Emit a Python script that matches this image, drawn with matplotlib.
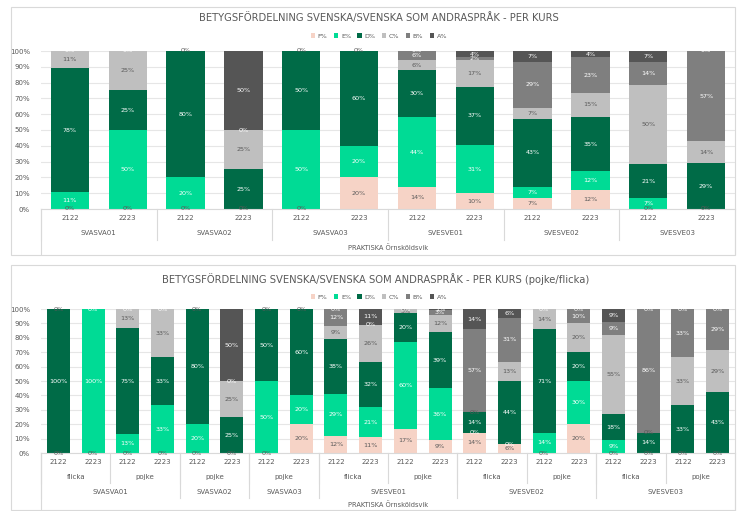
import matplotlib
matplotlib.use("Agg")
import matplotlib.pyplot as plt
import matplotlib.patches as patches
import numpy as np

# grades (series) and colours
grades = ['F%', 'E%', 'D%', 'C%', 'B%', 'A%']
colors = ['#F6D3C6', '#00DB95', '#006B47', '#BFBFBF', '#7F7F7F', '#555555']
label_colors = ['#595959', 'white', 'white', '#595959', 'white', 'white']

# top chart data (per kurs)
top_courses = ['SVASVA01', 'SVASVA02', 'SVASVA03', 'SVESVE01', 'SVESVE02', 'SVESVE03']
top_years = ['2122', '2223'] * 6
top_F = [0, 0, 0, 0, 0, 20, 14, 10, 7, 12, 0, 0]
top_E = [11, 50, 20, 0, 50, 20, 44, 31, 7, 12, 7, 0]
top_D = [78, 25, 80, 25, 50, 60, 30, 37, 43, 35, 21, 29]
top_C = [11, 25, 0, 25, 0, 0, 6, 17, 7, 15, 50, 14]
top_B = [0, 0, 0, 0, 0, 0, 6, 2, 29, 23, 14, 57]
top_A = [0, 0, 0, 50, 0, 0, 0, 4, 7, 4, 7, 0]

# bottom chart data (per kurs, pojke/flicka)
bot_courses = ['SVASVA01', 'SVASVA02', 'SVASVA03', 'SVESVE01', 'SVESVE02', 'SVESVE03']
bot_course_sizes = [4, 2, 2, 4, 4, 4]
bot_genders = ['flicka', 'pojke', 'pojke', 'pojke', 'flicka', 'pojke',
               'flicka', 'pojke', 'flicka', 'pojke']
bot_years = ['2122', '2223'] * 10
bot_F = [0, 0, 0, 0, 0, 0, 0, 20, 12, 11, 17, 9, 14, 6, 0, 20, 0, 0, 0, 0]
bot_E = [0, 100, 13, 33, 20, 0, 50, 20, 29, 21, 60, 36, 0, 0, 14, 30, 9, 0, 0, 0]
bot_D = [100, 0, 75, 33, 80, 25, 50, 60, 38, 32, 20, 39, 14, 44, 71, 20, 18, 14, 33, 43]
bot_C = [0, 0, 13, 33, 0, 25, 0, 0, 9, 26, 3, 12, 0, 13, 14, 20, 55, 0, 33, 29]
bot_B = [0, 0, 0, 0, 0, 0, 0, 0, 12, 0, 0, 3, 57, 31, 0, 10, 9, 86, 33, 29]
bot_A = [0, 0, 0, 0, 0, 50, 0, 0, 0, 11, 0, 1, 14, 6, 0, 0, 9, 0, 0, 0]

W, H = 737, 511
fig = plt.figure(figsize=(W / 100, H / 100), dpi=100)
plt.rcParams['font.family'] = ['DejaVu Sans']
gray = '#595959'


def px_axes(x0, y0, x1, y1):
    # pixel box (top-left origin) -> axes
    return fig.add_axes([x0 / W, 1 - y1 / H, (x1 - x0) / W, (y1 - y0) / H])


def stacked(ax, series, width):
    data = np.array(series, dtype=float)
    tot = data.sum(axis=0)
    tot[tot == 0] = 1
    heights = data / tot * 100
    n = data.shape[1]
    x = np.arange(n)
    bottom = np.zeros(n)
    handles = []
    seen = [set() for _ in range(n)]
    for i in range(len(grades)):
        b = ax.bar(x, heights[i], width, bottom=bottom, color=colors[i], label=grades[i], zorder=2)
        handles.append(b)
        for j in range(n):
            yc = bottom[j] + heights[i][j] / 2
            if data[i][j] == 0:
                key = round(yc, 1)
                if key in seen[j]:
                    continue  # identical "0%" already drawn here
                seen[j].add(key)
            ax.text(x[j], yc, '%d%%' % data[i][j],
                    ha='center', va='center', fontsize=4.6, color=label_colors[i], zorder=3)
        bottom += heights[i]
    ax.set_xlim(-0.5, n - 0.5)
    ax.set_ylim(0, 100)
    ax.set_yticks(np.arange(0, 101, 10))
    ax.set_yticklabels(['%d%%' % v for v in range(0, 101, 10)])
    ax.tick_params(axis='y', length=0, labelsize=5, labelcolor=gray, pad=8)
    ax.set_xticks([])
    ax.grid(axis='y', color='#E6E6E6', linewidth=0.8, zorder=0)
    for s in ['top', 'right', 'left']:
        ax.spines[s].set_visible(False)
    ax.spines['bottom'].set_color('#D9D9D9')
    return handles


def vline(ax, x, y0px, y1px, ytop):
    # vertical separator in data x, pixel y
    trans = ax.get_xaxis_transform()
    h = ax.get_position().height * H
    ax.plot([x, x], [-(y0px - ytop) / h, -(y1px - ytop) / h], transform=trans,
            color='#D9D9D9', linewidth=0.8, clip_on=False)


def row_text(ax, x, ypx, ytop, s, size=5):
    trans = ax.get_xaxis_transform()
    h = ax.get_position().height * H
    ax.text(x, -(ypx - ytop) / h, s, transform=trans, ha='center', va='center',
            fontsize=size, color=gray)


# chart borders
for (y0, y1) in [(7, 255), (265, 510)]:
    fig.patches.append(patches.Rectangle((11 / W, 1 - y1 / H), 724 / W, (y1 - y0) / H,
                                         transform=fig.transFigure, fill=False,
                                         edgecolor='#D9D9D9', linewidth=0.8))

# ---------- top chart ----------
ax1 = px_axes(41, 51, 735, 209)
h1 = stacked(ax1, [top_F, top_E, top_D, top_C, top_B, top_A], 0.66)
for j, y in enumerate(top_years):
    row_text(ax1, j, 218, 209, y)
for k, c in enumerate(top_courses):
    row_text(ax1, 2 * k + 0.5, 233, 209, c)
    vline(ax1, 2 * k - 0.5, 209, 240, 209)
vline(ax1, -0.5, 209, 254, 209)
vline(ax1, 11.5, 209, 254, 209)
row_text(ax1, 5.5, 248, 209, 'PRAKTISKA Örnsköldsvik', 4.8)
fig.text(379 / W, 1 - 18 / H, 'BETYGSFÖRDELNING SVENSKA/SVENSKA SOM ANDRASPRÅK - PER KURS',
         ha='center', va='center', fontsize=7.2, color=gray)
fig.legend(h1, grades, loc='center', bbox_to_anchor=(379 / W, 1 - 36 / H), ncol=6,
           fontsize=4.6, frameon=False, handlelength=0.7, handleheight=0.7,
           columnspacing=1.0, handletextpad=0.4, labelcolor=gray)

# ---------- bottom chart ----------
ax2 = px_axes(41, 309, 735, 453)
h2 = stacked(ax2, [bot_F, bot_E, bot_D, bot_C, bot_B, bot_A], 0.66)
for j, y in enumerate(bot_years):
    row_text(ax2, j, 462, 453, y)
for k, g in enumerate(bot_genders):
    row_text(ax2, 2 * k + 0.5, 477, 453, g)
    vline(ax2, 2 * k - 0.5, 453, 483, 453)
start = 0
for c, n in zip(bot_courses, bot_course_sizes):
    row_text(ax2, start + (n - 1) / 2, 492, 453, c)
    vline(ax2, start - 0.5, 453, 498, 453)
    start += n
vline(ax2, -0.5, 453, 510, 453)
vline(ax2, 19.5, 453, 510, 453)
row_text(ax2, 9.5, 505, 453, 'PRAKTISKA Örnsköldsvik', 4.8)
fig.text(376 / W, 1 - 279 / H,
         'BETYGSFÖRDELNING SVENSKA/SVENSKA SOM ANDRASPRÅK - PER KURS (pojke/flicka)',
         ha='center', va='center', fontsize=7.2, color=gray)
fig.legend(h2, grades, loc='center', bbox_to_anchor=(379 / W, 1 - 297 / H), ncol=6,
           fontsize=4.6, frameon=False, handlelength=0.7, handleheight=0.7,
           columnspacing=1.0, handletextpad=0.4, labelcolor=gray)

fig.savefig('out.png', dpi=100, facecolor='white')
